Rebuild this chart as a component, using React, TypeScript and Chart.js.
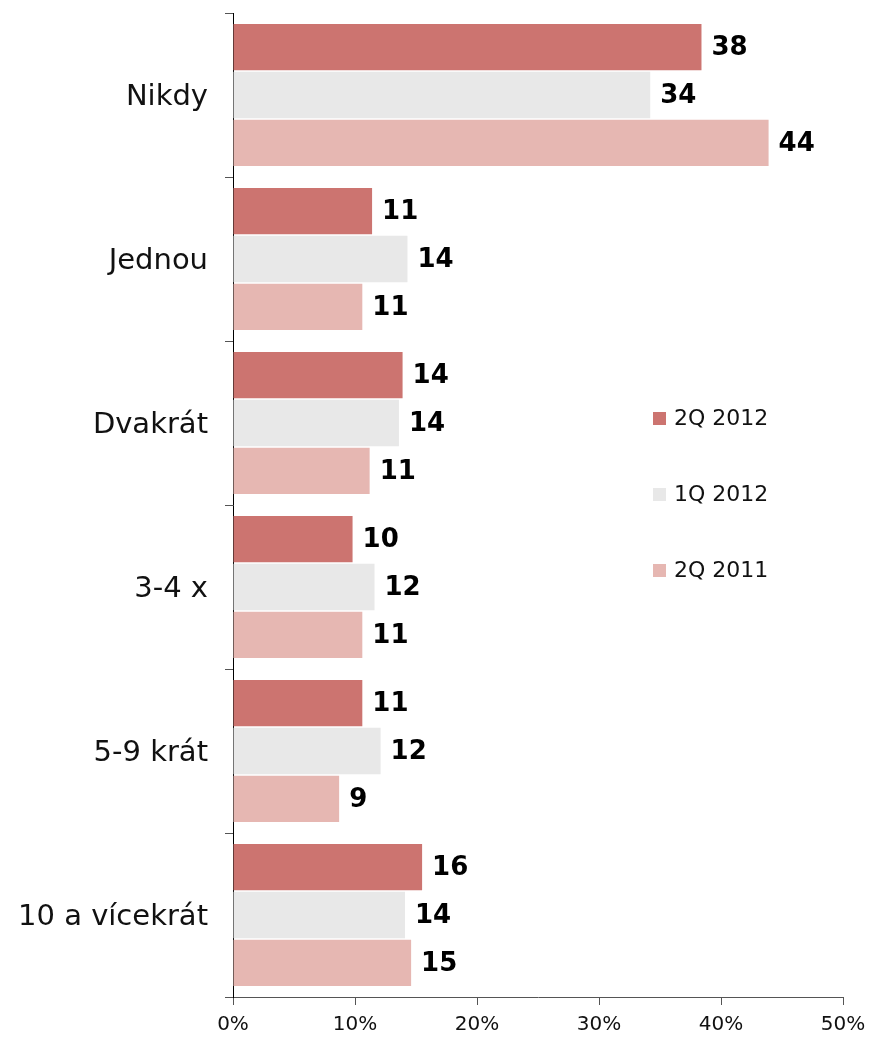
import React, { useEffect, useRef } from "react";
import { Chart, registerables } from "chart.js";

Chart.register(...registerables);

const categories = ["Nikdy", "Jednou", "Dvakrát", "3-4 x", "5-9 krát", "10 a vícekrát"];
const series2Q2012 = [38.4, 11.4, 13.9, 9.8, 10.6, 15.5];
const series1Q2012 = [34.2, 14.3, 13.6, 11.6, 12.1, 14.1];
const series2Q2011 = [43.9, 10.6, 11.2, 10.6, 8.7, 14.6];
const seriesNames = ["2Q 2012", "1Q 2012", "2Q 2011"];
const seriesColors = ["#CC7470", "#E8E8E8", "#E6B7B2"];
const xTicks = [0, 10, 20, 30, 40, 50];

const FONT = "'DejaVu Sans', Verdana, sans-serif";

const valueLabelPlugin = {
  id: "valueLabels",
  afterDatasetsDraw(chart: any) {
    const ctx = chart.ctx;
    ctx.save();
    ctx.font = `bold 26px ${FONT}`;
    ctx.fillStyle = "#000";
    ctx.textAlign = "left";
    ctx.textBaseline = "middle";
    chart.data.datasets.forEach((ds: any, i: number) => {
      const meta = chart.getDatasetMeta(i);
      meta.data.forEach((bar: any, j: number) => {
        const v = ds.data[j];
        ctx.fillText(String(Math.round(v)), bar.x + 10, bar.y + 1);
      });
    });
    ctx.restore();
  },
};

const legendPlugin = {
  id: "customLegend",
  afterDraw(chart: any) {
    const ctx = chart.ctx;
    ctx.save();
    ctx.font = `22px ${FONT}`;
    ctx.textBaseline = "middle";
    ctx.textAlign = "left";
    seriesNames.forEach((name, i) => {
      const y = 418.5 + i * 76;
      ctx.fillStyle = seriesColors[i];
      ctx.fillRect(653, Math.round(y - 6.5), 13, 13);
      ctx.fillStyle = "#111";
      ctx.fillText(name, 674, y + 1);
    });
    ctx.restore();
  },
};

export default function App() {
  const ref = useRef<HTMLCanvasElement | null>(null);
  useEffect(() => {
    if (!ref.current) return;
    const chart = new Chart(ref.current, {
      type: "bar",
      data: {
        labels: categories,
        datasets: [series2Q2012, series1Q2012, series2Q2011].map((d, i) => ({
          label: seriesNames[i],
          data: d,
          backgroundColor: seriesColors[i],
          borderWidth: 0,
          categoryPercentage: 0.875,
          barPercentage: 0.97,
        })),
      },
      options: {
        indexAxis: "y",
        animation: false,
        responsive: false,
        maintainAspectRatio: false,
        layout: { padding: { top: 13, right: 27, left: 0, bottom: 0 } },
        plugins: {
          legend: { display: false },
          tooltip: { enabled: false },
        },
        scales: {
          x: {
            min: 0,
            max: 50,
            afterFit: (s: any) => {
              s.height = 43;
              s.paddingLeft = 0;
              s.paddingRight = 0;
            },
            afterBuildTicks: (s: any) => {
              s.ticks = xTicks.map((v) => ({ value: v }));
            },
            border: { display: true, color: "#555", width: 1 },
            grid: {
              display: true,
              drawOnChartArea: false,
              drawTicks: true,
              tickLength: 8,
              color: "#555",
            },
            ticks: {
              color: "#111",
              font: { family: FONT, size: 20 },
              padding: 8,
              maxRotation: 0,
              callback: (v: any) => `${v}%`,
            },
          },
          y: {
            afterFit: (s: any) => {
              s.width = 233;
              s.paddingTop = 0;
              s.paddingBottom = 0;
            },
            border: { display: true, color: "#000", width: 1 },
            grid: {
              display: true,
              offset: true,
              drawOnChartArea: false,
              drawTicks: true,
              tickLength: 8,
              color: "#555",
            },
            ticks: {
              color: "#111",
              font: { family: FONT, size: 29 },
              padding: 17,
              labelOffset: 2,
            },
          },
        },
      },
      plugins: [valueLabelPlugin, legendPlugin],
    });
    return () => chart.destroy();
  }, []);
  return (
    <div style={{ position: "fixed", left: 0, top: 0, width: 870, height: 1040, background: "#fff" }}>
      <canvas ref={ref} width={870} height={1040} style={{ width: 870, height: 1040 }} />
    </div>
  );
}
